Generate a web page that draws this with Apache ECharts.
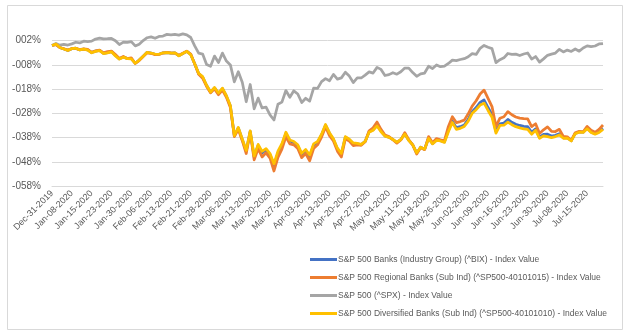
<!DOCTYPE html>
<html>
<head>
<meta charset="utf-8">
<script src="https://cdn.jsdelivr.net/npm/echarts@6/dist/echarts.min.js"></script>
<style>
html,body{margin:0;padding:0;background:#fff;}
#chart{width:625px;height:333px;}
</style>
</head>
<body>
<div id="chart"></div>
<script>
const dates = ["Dec-31-2019","Jan-02-2020","Jan-03-2020","Jan-06-2020","Jan-07-2020","Jan-08-2020","Jan-09-2020","Jan-10-2020","Jan-13-2020","Jan-14-2020",
"Jan-15-2020","Jan-16-2020","Jan-17-2020","Jan-21-2020","Jan-22-2020","Jan-23-2020","Jan-24-2020","Jan-27-2020","Jan-28-2020","Jan-29-2020",
"Jan-30-2020","Jan-31-2020","Feb-03-2020","Feb-04-2020","Feb-05-2020","Feb-06-2020","Feb-07-2020","Feb-10-2020","Feb-11-2020","Feb-12-2020",
"Feb-13-2020","Feb-14-2020","Feb-18-2020","Feb-19-2020","Feb-20-2020","Feb-21-2020","Feb-24-2020","Feb-25-2020","Feb-26-2020","Feb-27-2020",
"Feb-28-2020","Mar-02-2020","Mar-03-2020","Mar-04-2020","Mar-05-2020","Mar-06-2020","Mar-09-2020","Mar-10-2020","Mar-11-2020","Mar-12-2020",
"Mar-13-2020","Mar-16-2020","Mar-17-2020","Mar-18-2020","Mar-19-2020","Mar-20-2020","Mar-23-2020","Mar-24-2020","Mar-25-2020","Mar-26-2020",
"Mar-27-2020","Mar-30-2020","Mar-31-2020","Apr-01-2020","Apr-02-2020","Apr-03-2020","Apr-06-2020","Apr-07-2020","Apr-08-2020","Apr-09-2020",
"Apr-13-2020","Apr-14-2020","Apr-15-2020","Apr-16-2020","Apr-17-2020","Apr-20-2020","Apr-21-2020","Apr-22-2020","Apr-23-2020","Apr-24-2020",
"Apr-27-2020","Apr-28-2020","Apr-29-2020","Apr-30-2020","May-01-2020","May-04-2020","May-05-2020","May-06-2020","May-07-2020","May-08-2020",
"May-11-2020","May-12-2020","May-13-2020","May-14-2020","May-15-2020","May-18-2020","May-19-2020","May-20-2020","May-21-2020","May-22-2020",
"May-26-2020","May-27-2020","May-28-2020","May-29-2020","Jun-01-2020","Jun-02-2020","Jun-03-2020","Jun-04-2020","Jun-05-2020","Jun-08-2020",
"Jun-09-2020","Jun-10-2020","Jun-11-2020","Jun-12-2020","Jun-15-2020","Jun-16-2020","Jun-17-2020","Jun-18-2020","Jun-19-2020","Jun-22-2020",
"Jun-23-2020","Jun-24-2020","Jun-25-2020","Jun-26-2020","Jun-29-2020","Jun-30-2020","Jul-01-2020","Jul-02-2020","Jul-06-2020","Jul-07-2020",
"Jul-08-2020","Jul-09-2020","Jul-10-2020","Jul-13-2020","Jul-14-2020","Jul-15-2020","Jul-16-2020","Jul-17-2020","Jul-20-2020","Jul-21-2020"];

// values in percent change since Dec-31-2019
const banksBIX = [0,0.5,-0.8,-1.4,-2.0,-1.3,-1.1,-1.8,-1.5,-1.8,
-2.9,-2.3,-2.0,-3.2,-2.9,-2.5,-4.1,-5.5,-4.7,-5.4,
-5.4,-7.3,-6.0,-4.4,-2.8,-3.1,-3.6,-3.6,-3.0,-2.9,
-3.1,-3.0,-4.2,-3.3,-2.4,-3.7,-7.5,-11.6,-13.0,-16.5,
-19.3,-17.5,-19.8,-17.8,-20.9,-25.0,-37.3,-34.0,-38.8,-43.6,
-35.4,-46.0,-41.3,-44.3,-43.1,-45.1,-49.6,-44.3,-41.1,-36.3,
-39.4,-40.0,-41.4,-45.0,-43.3,-45.8,-41.1,-40.0,-36.9,-32.9,
-36.3,-38.8,-42.7,-44.9,-37.8,-38.9,-40.5,-40.6,-40.9,-39.6,
-35.6,-34.8,-32.8,-35.3,-37.3,-37.8,-38.8,-40.0,-38.8,-36.4,
-39.1,-41.0,-44.4,-42.0,-42.8,-38.2,-40.5,-39.0,-39.3,-39.8,
-35.0,-31.2,-33.9,-33.5,-32.8,-30.5,-27.3,-25.6,-23.5,-22.5,
-25.6,-28.5,-35.5,-32.3,-32.0,-30.5,-31.7,-32.5,-33.0,-33.4,
-33.5,-35.8,-34.4,-37.8,-36.7,-36.6,-37.4,-37.1,-36.4,-38.1,
-38.1,-39.3,-36.3,-35.7,-35.8,-34.1,-35.7,-36.4,-35.6,-34.2];

const regionalBanks = [0,0.4,-0.9,-1.3,-1.9,-1.2,-1.2,-1.7,-1.4,-1.6,
-2.8,-2.2,-1.9,-3.0,-2.5,-2.3,-3.7,-5.3,-4.5,-5.4,
-5.1,-7.4,-6.2,-4.5,-3.0,-3.2,-3.8,-3.7,-3.1,-2.8,
-3.0,-3.1,-4.0,-3.2,-2.3,-3.5,-7.6,-11.9,-13.5,-16.9,
-19.5,-17.9,-20.3,-18.4,-21.4,-25.6,-37.6,-34.6,-39.3,-44.6,
-35.9,-47.2,-42.6,-46.0,-44.3,-46.5,-51.8,-46.2,-42.8,-37.7,
-40.6,-41.0,-42.5,-46.3,-44.6,-47.6,-42.5,-41.0,-37.8,-33.6,
-37.2,-39.4,-43.6,-46.0,-38.5,-39.5,-41.3,-41.0,-41.2,-39.7,
-35.2,-34.0,-31.6,-34.6,-37.0,-37.6,-38.9,-40.3,-39.0,-36.0,
-38.9,-41.0,-44.8,-42.1,-43.0,-37.6,-40.1,-38.4,-38.9,-39.3,
-33.4,-29.4,-31.8,-31.4,-30.8,-28.2,-25.0,-22.8,-20.0,-18.4,
-21.8,-25.2,-33.4,-30.0,-29.4,-27.3,-28.6,-29.5,-30.0,-30.2,
-30.3,-33.5,-32.3,-36.3,-34.8,-33.6,-35.4,-35.5,-34.6,-37.5,
-37.7,-39.2,-36.0,-35.4,-35.6,-33.4,-35.0,-35.8,-34.6,-32.8];

const spx = [0,0.84,0.13,0.48,0.20,0.69,1.36,1.07,1.78,1.62,
1.81,2.66,3.06,2.79,2.82,2.93,2.00,0.40,1.41,1.32,
1.64,-0.16,0.56,2.07,3.22,3.56,3.00,3.75,3.93,4.60,
4.43,4.62,4.32,4.81,4.41,3.31,-0.15,-3.17,-3.54,-7.80,
-8.56,-4.35,-7.04,-3.12,-6.40,-8.00,-14.99,-10.79,-15.15,-23.22,
-16.09,-26.14,-21.72,-25.77,-25.42,-28.66,-30.75,-24.25,-23.38,-18.59,
-21.34,-18.70,-20.00,-23.53,-21.79,-22.97,-17.55,-17.69,-14.88,-13.65,
-14.52,-11.91,-13.85,-13.35,-11.03,-12.62,-15.30,-13.35,-13.40,-12.20,
-10.90,-11.37,-9.02,-9.85,-12.38,-12.01,-11.22,-11.84,-10.82,-9.32,
-9.30,-11.16,-12.71,-11.71,-11.36,-8.57,-9.53,-8.02,-8.74,-8.52,
-7.40,-6.02,-6.22,-5.77,-5.42,-4.64,-3.34,-3.67,-1.14,0.05,
-0.73,-1.26,-7.08,-5.86,-5.08,-3.28,-3.63,-3.57,-4.12,-3.50,
-3.08,-5.59,-4.55,-6.86,-5.50,-4.04,-3.56,-3.12,-1.58,-2.65,
-1.88,-2.44,-1.42,-2.34,-1.03,-0.13,-0.47,-0.19,0.65,0.82];

const diversifiedBanks = [0,0.6,-0.8,-1.4,-2.0,-1.3,-1.1,-1.8,-1.5,-1.9,
-3.0,-2.4,-2.1,-3.3,-3.0,-2.6,-4.3,-5.6,-4.8,-5.4,
-5.5,-7.3,-6.0,-4.4,-2.8,-3.1,-3.5,-3.6,-3.0,-2.9,
-3.1,-3.0,-4.3,-3.3,-2.4,-3.8,-7.5,-11.5,-12.8,-16.4,
-19.2,-17.3,-19.6,-17.6,-20.7,-24.8,-37.2,-33.8,-38.6,-43.3,
-35.2,-45.6,-40.8,-43.7,-42.6,-44.6,-48.8,-43.6,-40.5,-35.8,
-39.0,-39.6,-41.0,-44.5,-42.9,-45.2,-40.6,-39.6,-36.6,-32.6,
-36.0,-38.5,-42.4,-44.5,-37.6,-38.7,-40.2,-40.4,-40.8,-39.6,
-35.8,-35.0,-33.2,-35.6,-37.4,-37.9,-38.8,-39.9,-38.8,-36.6,
-39.2,-41.0,-44.3,-42.0,-42.8,-38.4,-40.6,-39.2,-39.4,-40.0,
-35.6,-31.8,-34.6,-34.2,-33.4,-31.2,-28.0,-26.5,-24.6,-23.8,
-26.8,-29.6,-36.2,-33.0,-32.9,-31.6,-32.7,-33.5,-34.0,-34.4,
-34.6,-36.6,-35.0,-38.3,-37.3,-37.6,-38.0,-37.6,-36.9,-38.3,
-38.2,-39.4,-36.4,-35.8,-35.9,-34.4,-35.9,-36.6,-35.9,-34.6];

const seriesNames = [
  "S&P 500 Banks (Industry Group) (^BIX) - Index Value",
  "S&P 500 Regional Banks (Sub Ind) (^SP500-40101015) - Index Value",
  "S&P 500 (^SPX) - Index Value",
  "S&P 500 Diversified Banks (Sub Ind) (^SP500-40101010) - Index Value"
];
const seriesColors = ["#4472C4", "#ED7D31", "#A5A5A5", "#FFC000"];

// axis runs from -58% to 6%; ticks every 10% starting at -58%
const AXIS_BOTTOM = -58;
const AXIS_TOP = 6;
const shift = v => v - AXIS_BOTTOM;

function fmtPct(v) {
  const n = Math.round(v);
  const s = String(Math.abs(n)).padStart(3, '0');
  return (n < 0 ? '-' : '') + s + '%';
}

const allData = [banksBIX, regionalBanks, spx, diversifiedBanks];
const chart = echarts.init(document.getElementById('chart'), null, {renderer: 'canvas'});
chart.setOption({
  animation: false,
  backgroundColor: '#ffffff',
  textStyle: {fontFamily: 'Liberation Sans'},
  graphic: [{
    type: 'rect', left: 5, top: 3, silent: true,
    shape: {width: 615, height: 324},
    style: {fill: 'none', stroke: '#D9D9D9', lineWidth: 1}
  }],
  grid: {left: 52, right: 22, top: 31, bottom: 147, containLabel: false},
  xAxis: {
    type: 'category',
    data: dates,
    boundaryGap: false,
    axisTick: {show: false},
    axisLine: {show: true, lineStyle: {color: '#D9D9D9'}},
    axisLabel: {interval: 4, rotate: 45, fontSize: 9, color: '#595959', margin: 6, fontFamily: 'Liberation Sans'},
    splitLine: {show: false}
  },
  yAxis: {
    type: 'value',
    min: 0,
    max: shift(AXIS_TOP),
    interval: 10,
    axisLine: {show: false},
    axisTick: {show: false},
    axisLabel: {
      fontSize: 10, color: '#595959', margin: 11, fontFamily: 'Liberation Sans',
      formatter: v => (v > 60.5 ? '' : fmtPct(v + AXIS_BOTTOM))
    },
    splitLine: {show: true, lineStyle: {color: ['#D9D9D9','#D9D9D9','#D9D9D9','#D9D9D9','#D9D9D9','#D9D9D9','#D9D9D9','rgba(0,0,0,0)'], width: 1}}
  },
  legend: {
    orient: 'vertical',
    left: 305,
    top: 250,
    itemWidth: 27,
    itemHeight: 3,
    itemGap: 9,
    icon: 'rect',
    textStyle: {fontSize: 8.5, color: '#595959', fontFamily: 'Liberation Sans', padding: [0,0,0,-4]},
    data: seriesNames
  },
  series: allData.map((arr, i) => ({
    name: seriesNames[i],
    type: 'line',
    data: arr.map(shift),
    symbol: 'none',
    showSymbol: false,
    lineStyle: {width: 2.75, color: seriesColors[i], join: 'round'},
    itemStyle: {color: seriesColors[i]},
    emphasis: {disabled: true}
  }))
});
</script>
</body>
</html>
